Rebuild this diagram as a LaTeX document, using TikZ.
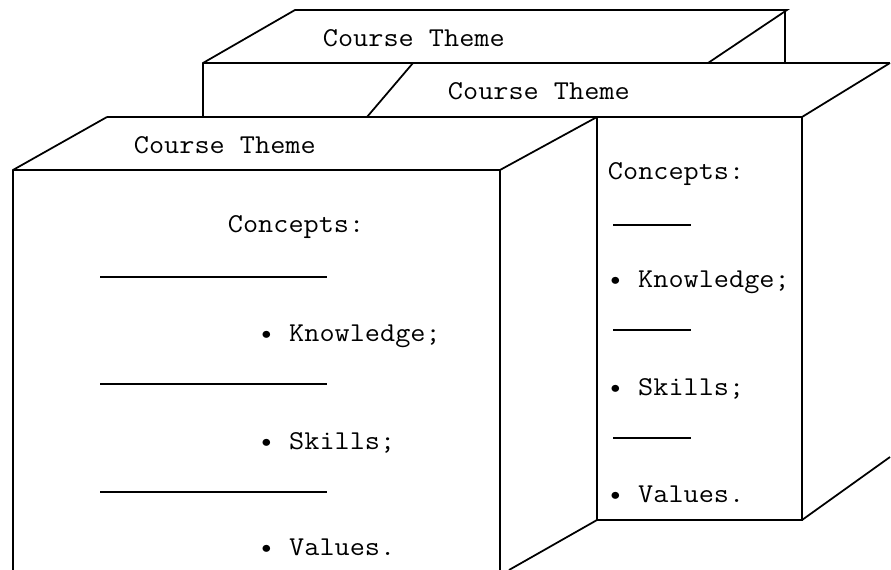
\documentclass[tikz,border=0pt]{standalone}
\begin{document}
\begin{tikzpicture}[x=0.02cm,y=-0.02cm,line width=1pt,
  lbl/.style={font=\ttfamily\fontsize{15.5}{18}\selectfont,anchor=base west,inner sep=0pt,xscale=1.08,transform shape}]
\useasboundingbox (0,0) rectangle (891,570);
\draw(203,117)--(203,63)--(295,10)--(787,10)--(708,63);
\draw(785,10)--(785,63);
\draw(203,63)--(890,63);
\draw(413,63)--(367,117);
\draw(890,63)--(802,117);
\draw(107,117)--(802,117);
\draw(597,117)--(597,520)--(802,520)--(802,117);
\draw(802,520)--(890,457);
\draw(597,520)--(509,570);
\draw(13,570)--(13,170)--(107,117);
\draw(13,170)--(500,170)--(597,117);
\draw(500,170)--(500,570);
\node[lbl](backtitle) at (322,47){Course Theme};
\node[lbl](midtitle) at (447,100){Course Theme};
\node[lbl](fronttitle) at (133,154){Course Theme};
\node[lbl](frontconc) at (227,233){Concepts:};
\node[lbl](frontknow) at (258,341){\textbullet{} Knowledge;};
\node[lbl](frontskill) at (258,449){\textbullet{} Skills;};
\node[lbl](frontval) at (258,555){\textbullet{} Values.};
\node[lbl](midconc) at (607,180){Concepts:};
\node[lbl](midknow) at (607,288){\textbullet{} Knowledge;};
\node[lbl](midskill) at (607,395){\textbullet{} Skills;};
\node[lbl](midval) at (607,502){\textbullet{} Values.};
\foreach \y in {277,384,492} \draw(100,\y)--(327,\y);
\foreach \y in {225,330,438} \draw(613,\y)--(691,\y);
\end{tikzpicture}
\end{document}
